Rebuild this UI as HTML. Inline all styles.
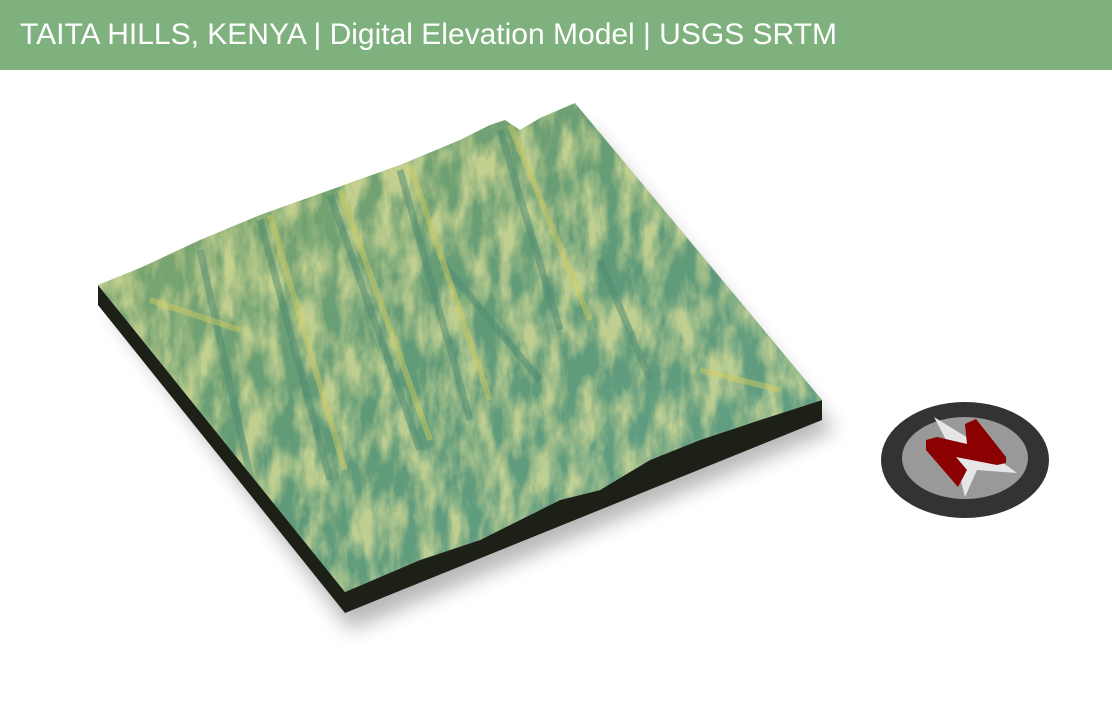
<!DOCTYPE html>
<html><head><meta charset="utf-8"><style>
html,body{margin:0;padding:0;background:#fff;width:1112px;height:704px;overflow:hidden}
#hdr{position:absolute;left:0;top:0;width:1112px;height:70px;background:#7eb17e}
#hdr span{position:absolute;left:20px;top:18px;font:30px "Liberation Sans",sans-serif;color:#fff;white-space:nowrap}
svg{position:absolute;left:0;top:0}
</style></head><body>
<div id="hdr"><span>TAITA HILLS, KENYA | Digital Elevation Model | USGS SRTM</span></div>
<svg width="1112" height="704">
<defs>
<filter id="blur" x="-20%" y="-20%" width="140%" height="140%"><feGaussianBlur stdDeviation="10"/></filter>
<filter id="tex" x="0" y="0" width="100%" height="100%">
<feTurbulence type="fractalNoise" baseFrequency="0.05 0.02" numOctaves="4" seed="7" result="n"/>
<feColorMatrix in="n" type="matrix" values="0 0 0 0 0.80  0 0 0 0 0.78  0 0 0 0 0.33  0 0 0 -2.6 1.7"/>
</filter>
<linearGradient id="base" x1="0" y1="0" x2="1" y2="1">
<stop offset="0" stop-color="#8aac6c"/><stop offset="0.5" stop-color="#5f9a78"/><stop offset="1" stop-color="#62a08a"/>
</linearGradient>
<clipPath id="top"><polygon id="tp" points="98,285 140,268 200,240 260,215 330,190 400,165 460,140 490,125 505,120 520,130 540,118 575,103 822,400 760,420 700,440 650,460 600,490 560,500 520,520 480,540 420,560 345,592"/></clipPath>
</defs>
<polygon points="110,310 350,630 835,430 590,130" fill="#000" opacity="0.28" filter="url(#blur)"/>
<polygon points="98,285 98,305 345,613 822,420 822,400 760,420 700,440 650,460 600,490 560,500 520,520 480,540 420,560 345,592" fill="#1c2016"/>
<g clip-path="url(#top)">
<rect x="90" y="100" width="740" height="500" fill="url(#base)"/>
<rect x="90" y="100" width="740" height="500" filter="url(#tex)" opacity="0.7"/>
<g stroke="#4f8a72" stroke-width="7" opacity="0.5" fill="none">
<path d="M500,130 L560,330"/><path d="M400,170 L470,420"/><path d="M330,195 L420,450"/><path d="M260,220 L330,480"/><path d="M600,260 L650,380"/><path d="M440,260 L540,380"/><path d="M200,250 L260,520"/>
</g>
<g stroke="#d6cf5e" stroke-width="6" opacity="0.45" fill="none">
<path d="M510,125 L590,320"/><path d="M410,165 L490,400"/><path d="M340,190 L430,440"/><path d="M270,215 L345,470"/><path d="M150,300 L240,330"/><path d="M700,370 L780,390"/>
</g>
</g>
<g>
<ellipse cx="965" cy="460" rx="84" ry="58" fill="#333"/>
<ellipse cx="965" cy="458" rx="63" ry="41" fill="#999"/>
<polygon points="934,417 976,443 1017,473 977,470 965,497 955,457" fill="#e6e6e6"/>
<polygon points="926,440 937,437 967,444 965,424 976,419 1006,457 1006,463 997,465 956,457 967,470 958,487 926,450" fill="#8b0000"/>
</g>
</svg>
</body></html>
